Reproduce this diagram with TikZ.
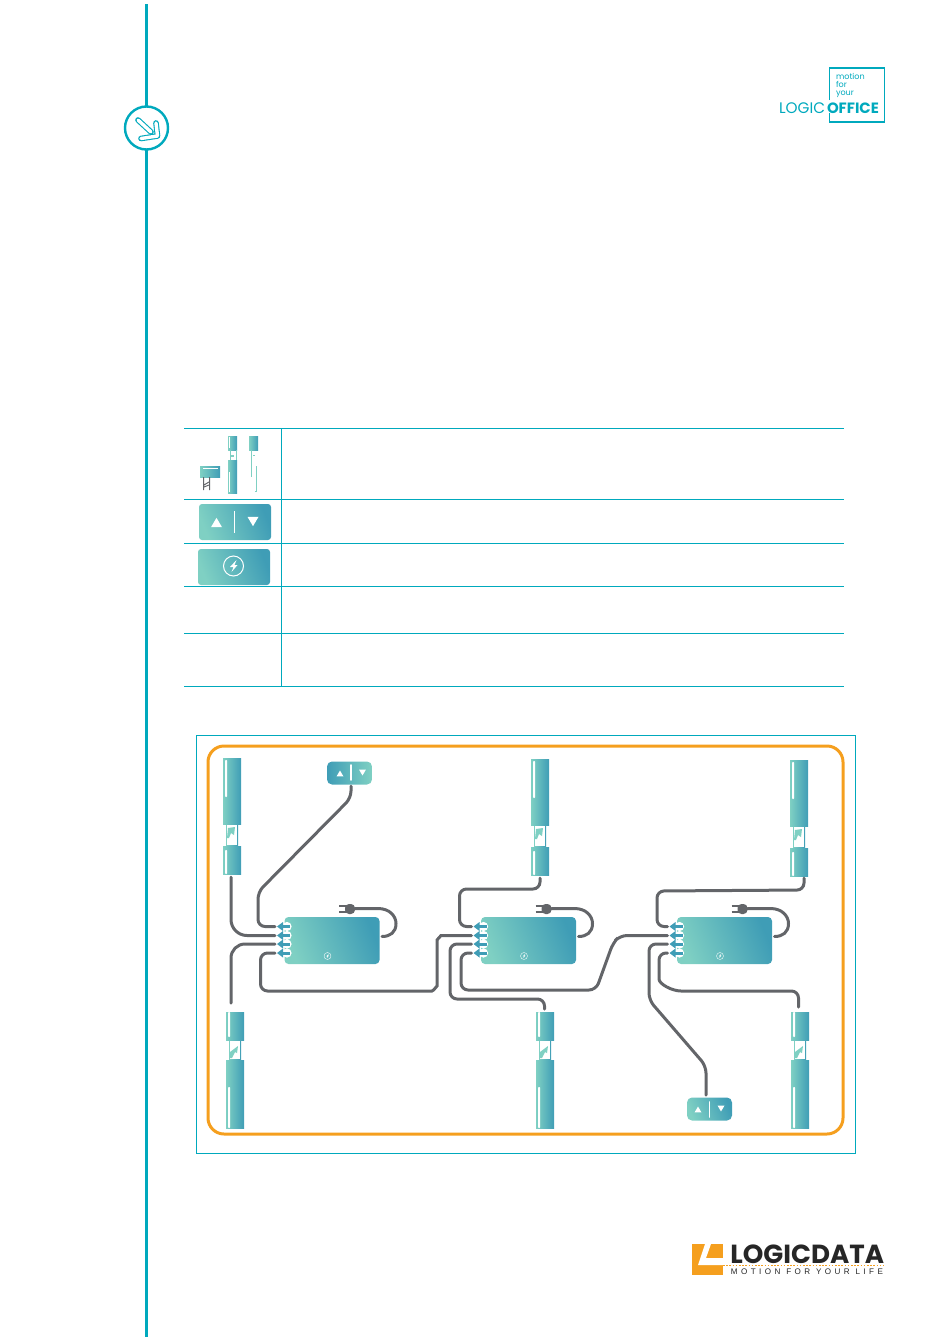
\documentclass[tikz,border=0pt]{standalone}
\usepackage{fontspec}
\setmainfont{Poppins}
\newfontfamily\dataspaced[LetterSpace=43]{Liberation Sans}
\usetikzlibrary{calc}
\definecolor{tealline}{HTML}{00A9BD}
\definecolor{teallt}{HTML}{7FD0C3}
\definecolor{tealdk}{HTML}{3F9DB6}
\definecolor{cablegrey}{HTML}{636569}
\definecolor{framed}{HTML}{F59F1E}
\definecolor{datablack}{HTML}{262626}
\def\px{0.02cm}
\tikzset{
  cable/.style={draw=cablegrey,line width=3*\px,rounded corners=7*\px,line cap=round},
  ruleline/.style={draw=tealline,line width=1*\px},
  gradbox/.style={inner sep=0,outer sep=0,left color=teallt,right color=tealdk,shading angle=112},
  gradboxrev/.style={inner sep=0,outer sep=0,left color=tealdk,right color=teallt},
  legblock/.style={inner sep=0,outer sep=0,left color=teallt,right color=tealdk,anchor=north west,minimum width=18*\px},
  logotext/.style={inner sep=0,outer sep=0,anchor=base west,text=tealline},
}
% x y halfwidth
\newcommand{\uptri}[3]{\fill[white] ({#1-#3},{#2+#3*0.85}) -- ({#1+#3},{#2+#3*0.85}) -- (#1,{#2-#3*0.85}) -- cycle;}
\newcommand{\downtri}[3]{\fill[white] ({#1-#3},{#2-#3*0.85}) -- ({#1+#3},{#2-#3*0.85}) -- (#1,{#2+#3*0.85}) -- cycle;}
% x y radius
\newcommand{\boltmark}[3]{
  \draw[white,line width=0.1*#3*\px] (#1,#2) circle (#3);
  \fill[white] ({#1+0.3*#3},{#2-0.6*#3}) -- ({#1-0.35*#3},{#2+0.1*#3}) -- (#1,{#2+0.1*#3}) -- ({#1-0.2*#3},{#2+0.6*#3}) -- ({#1+0.4*#3},{#2-0.1*#3}) -- ({#1+0.1*#3},{#2-0.1*#3}) -- cycle;
}
% name x y : long block above, short block below
\newcommand{\legtop}[3]{
  \begin{scope}[shift={(#2,#3)}]
    \shade[left color=teallt,right color=tealdk] (3,60) rectangle (15,95);
    \fill[white] (4,67) rectangle (14,87);
    \fill[teallt] (4,80) -- (5,70) -- (12,69) -- (11,77) -- (8,75) -- (6,80) -- cycle;
    \node[legblock,minimum height=66*\px] (#1up) at (0,0) {};
    \node[legblock,minimum height=28*\px] (#1lo) at (0,88) {};
    \fill[white,rounded corners=0.8*\px] (2,2) rectangle (4.2,39);
    \fill[white,rounded corners=0.8*\px] (2,92) rectangle (4.2,116);
  \end{scope}
}
% name x y : short block above, long block below
\newcommand{\legbot}[3]{
  \begin{scope}[shift={(#2,#3)}]
    \shade[left color=teallt,right color=tealdk] (3,20) rectangle (15,55);
    \fill[white] (4,28) rectangle (14,47);
    \fill[teallt] (4,40) -- (12,34) -- (11,41) -- (9,40) -- (6,46) -- (4,46) -- cycle;
    \node[legblock,minimum height=28*\px] (#1up) at (0,0) {};
    \node[legblock,minimum height=68*\px] (#1lo) at (0,48) {};
    \fill[white,rounded corners=0.8*\px] (2,0) rectangle (4.2,25);
    \fill[white,rounded corners=0.8*\px] (2,75) rectangle (4.2,116);
  \end{scope}
}
% name x y : control box with four ports and its mains lead
\newcommand{\ctrlbox}[3]{
  \node[gradbox,rounded corners=4*\px,minimum width=95*\px,minimum height=47*\px] (#1) at (#2,#3) {};
  \boltmark{#2-4.5}{#3+15.5}{3.5}
  \foreach \pn/\dy in {1/-14,2/-5,3/3.5,4/12.5}{
    \fill[white] ({#2-45},{#3+\dy}) circle (4.6);
    \draw[tealdk,line width=3*\px] ({#2-42},{#3+\dy}) -- ({#2-51},{#3+\dy});
    \fill[tealdk] ({#2-55},{#3+\dy}) -- ({#2-49},{#3+\dy-4.5}) -- ({#2-49},{#3+\dy+4.5}) -- cycle;
    \coordinate (#1p\pn) at ({#2-57},{#3+\dy});
  }
  \fill[cablegrey,rounded corners=4*\px] ({#2+13},{#3-36.5}) rectangle ({#2+23},{#3-26.5});
  \draw[cablegrey,line width=2.4*\px] ({#2+7},{#3-34.5}) -- ({#2+14},{#3-34.5}) ({#2+7},{#3-28.5}) -- ({#2+14},{#3-28.5});
  \draw[cablegrey,line width=3*\px,line cap=round] ({#2+23},{#3-32}) -- ({#2+46},{#3-32}) .. controls ({#2+58},{#3-32}) and ({#2+64},{#3-24}) .. ({#2+64},{#3-17}) .. controls ({#2+64},{#3-8}) and ({#2+58},{#3-4}) .. ({#2+50},{#3-4});
}
\begin{document}
\begin{tikzpicture}[x=\px,y=-\px]
  \useasboundingbox (0,0) rectangle (950,1342);
  %%%%% side rule %%%%%
  \draw[tealline,line width=3*\px] (146.5,4) -- (146.5,1337);
  \draw[tealline,fill=white,line width=2.4*\px] (146.5,128) circle (21.5);
  \foreach \w/\c in {5.6/tealline,3.4/white}{
    \draw[\c,line width=\w*\px,line cap=round,line join=round] (138,120) -- (151,132);
    \draw[\c,line width=\w*\px,line cap=round,line join=round] (156,123) -- (157.5,136) -- (141,138.5);
  }
  %%%%% top logo %%%%%
  \draw[tealline,line width=1.8*\px] (829.5,100) -- (829.5,68) -- (884.5,68) -- (884.5,122) -- (829.5,122) -- (829.5,113);
  \node[logotext,font=\fontsize{4.6pt}{5pt}\selectfont] (motionlabel) at (836,79) {motion};
  \node[logotext,font=\fontsize{4.6pt}{5pt}\selectfont] (forlabel) at (836,87.5) {for};
  \node[logotext,font=\fontsize{4.6pt}{5pt}\selectfont] (yourlabel) at (836,95.5) {your};
  \node[logotext,font=\fontsize{8.7pt}{10pt}\selectfont] (logiclabel) at (779,113.5) {LOGIC};
  \node[logotext,font=\fontsize{8.5pt}{10pt}\selectfont\bfseries] (officelabel) at (827,113.5) {OFFICE};
  %%%%% legend table %%%%%
  \foreach \yy in {428,499,543,586,633,686}
    \draw[ruleline] (184,\yy) -- (844,\yy);
  \draw[ruleline] (281,428) -- (281,686);
  % legend icons
  \shade[left color=teallt,right color=tealdk] (200,466) rectangle (220,477);
  \draw[white,line width=0.8*\px] (203,468) -- (218,468);
  \draw[cablegrey,line width=1*\px] (203.5,477) -- (203.5,490) (209.5,477) -- (209.5,490) (204,485) -- (209,482) (204,487) -- (209,485);
  \shade[left color=teallt,right color=tealdk] (228,436) rectangle (237,450);
  \shade[left color=teallt,right color=tealdk] (228,460) rectangle (237,493);
  \draw[teallt,line width=0.8*\px] (230,450) -- (230,460) (236,450) -- (236,460);
  \fill[teallt] (231,455) rectangle (234,456.5);
  \draw[white,line width=1*\px] (229.5,437) -- (229.5,448) (229.5,472) -- (229.5,492);
  \shade[left color=teallt,right color=tealdk] (249,436) rectangle (258,450);
  \draw[teallt,line width=0.9*\px] (251,450) -- (251,477) (256.5,466) -- (256.5,491) -- (255,491);
  \fill[teallt] (253,454.5) rectangle (255,456);
  \node[gradbox,rounded corners=3*\px,minimum width=72*\px,minimum height=36*\px] (legendhand) at (235,522) {};
  \uptri{216.5}{522.5}{5.5}
  \draw[white,line width=1*\px] (234.5,511) -- (234.5,533);
  \downtri{253}{521.5}{5.5}
  \node[gradbox,rounded corners=3*\px,minimum width=72*\px,minimum height=36*\px] (legendbox) at (234,567) {};
  \boltmark{233.5}{566}{10}
  %%%%% wiring frame %%%%%
  \draw[ruleline] (196,735) rectangle (855.5,1153);
  \draw[framed,line width=3*\px,rounded corners=16*\px] (208,746) rectangle (843,1134);
  % table legs
  \legtop{legA}{223}{758}
  \legtop{legB}{531}{759}
  \legtop{legC}{790}{760}
  \legbot{legD}{226}{1012}
  \legbot{legE}{536}{1012}
  \legbot{legF}{791}{1012}
  % control boxes
  \ctrlbox{boxA}{332}{940.5}
  \ctrlbox{boxB}{528.5}{940.5}
  \ctrlbox{boxC}{724.5}{940.5}
  % handsets
  \node[gradboxrev,rounded corners=5*\px,minimum width=45*\px,minimum height=23*\px] (handA) at (349.5,773) {};
  \uptri{340}{773.5}{3.5}
  \draw[white,line width=1.6*\px,line cap=round] (351,765) -- (351,780);
  \downtri{362.5}{772.5}{3.5}
  \node[gradbox,rounded corners=5*\px,minimum width=45*\px,minimum height=23*\px] (handB) at (709.5,1109) {};
  \uptri{698}{1109.5}{3.5}
  \draw[white,line width=1.6*\px,line cap=round] (709.5,1102) -- (709.5,1117);
  \downtri{721}{1108.5}{3.5}
  % cable ends
  \coordinate (handAend) at (351,786);
  \coordinate (handBend) at (706,1095);
  \coordinate (legAend) at (231,877);
  \coordinate (legBend) at (540,878);
  \coordinate (legCend) at (804,878);
  \coordinate (legDend) at (231,1003);
  \coordinate (legEend) at (544.5,1009);
  \coordinate (legFend) at (798.5,1007);
  % cables box A
  \draw[cable] (boxAp1) -- (258,926.5) -- (258,892) -- (351,798) -- (handAend);
  \draw[cable,rounded corners=16*\px] (boxAp2) -- (231,935.5) -- (legAend);
  \draw[cable,rounded corners=14*\px] (boxAp3) -- (231,944) -- (legDend);
  \draw[cable] (boxAp4) -- (260.5,953) -- (260.5,991) -- (425,991) .. controls (433,991) and (437,986) .. (437,979) -- (437,947) .. controls (437,940) and (441,935.5) .. (448,935.5) -- (boxBp2);
  % cables box B
  \draw[cable] (boxBp1) -- (459.5,926.5) -- (459.5,889) -- (540,889) -- (legBend);
  \draw[cable] (boxBp3) -- (450,944) -- (450,999) -- (544.5,999) -- (legEend);
  \draw[cable] (boxBp4) -- (461,953) -- (461,990) -- (596,990) -- (613,943) -- (620,935.5) -- (boxCp2);
  % cables box C
  \draw[cable] (boxCp1) -- (657,926.5) -- (657,891) -- (804,890) -- (legCend);
  \draw[cable] (boxCp3) -- (649,944) -- (649,1000) -- (706,1066) -- (handBend);
  \draw[cable] (boxCp4) -- (659,953) -- (659,972) .. controls (659,984) and (672,991) .. (688,991) -- (798.5,991) -- (legFend);
  %%%%% bottom logo %%%%%
  \fill[framed] (692,1244) rectangle (723,1275);
  \fill[white] (705,1244) -- (711,1244) -- (706,1258) -- (723,1258) -- (723,1265) -- (698,1265) -- cycle;
  \node[inner sep=0,anchor=base west,text=datablack,font=\fontsize{14.9pt}{15pt}\selectfont\bfseries] (datalabel) at (730,1263.5) {LOGICDATA};
  \draw[framed,line width=1.6*\px,dash pattern=on 1.6*\px off 1.6*\px] (723,1265.5) -- (884,1265.5);
  \node[inner sep=0,anchor=base west,text=datablack,font=\fontsize{4.6pt}{5pt}\selectfont\dataspaced] (sloganlabel) at (730.5,1274.5) {MOTION FOR YOUR LIFE};
\end{tikzpicture}
\end{document}
